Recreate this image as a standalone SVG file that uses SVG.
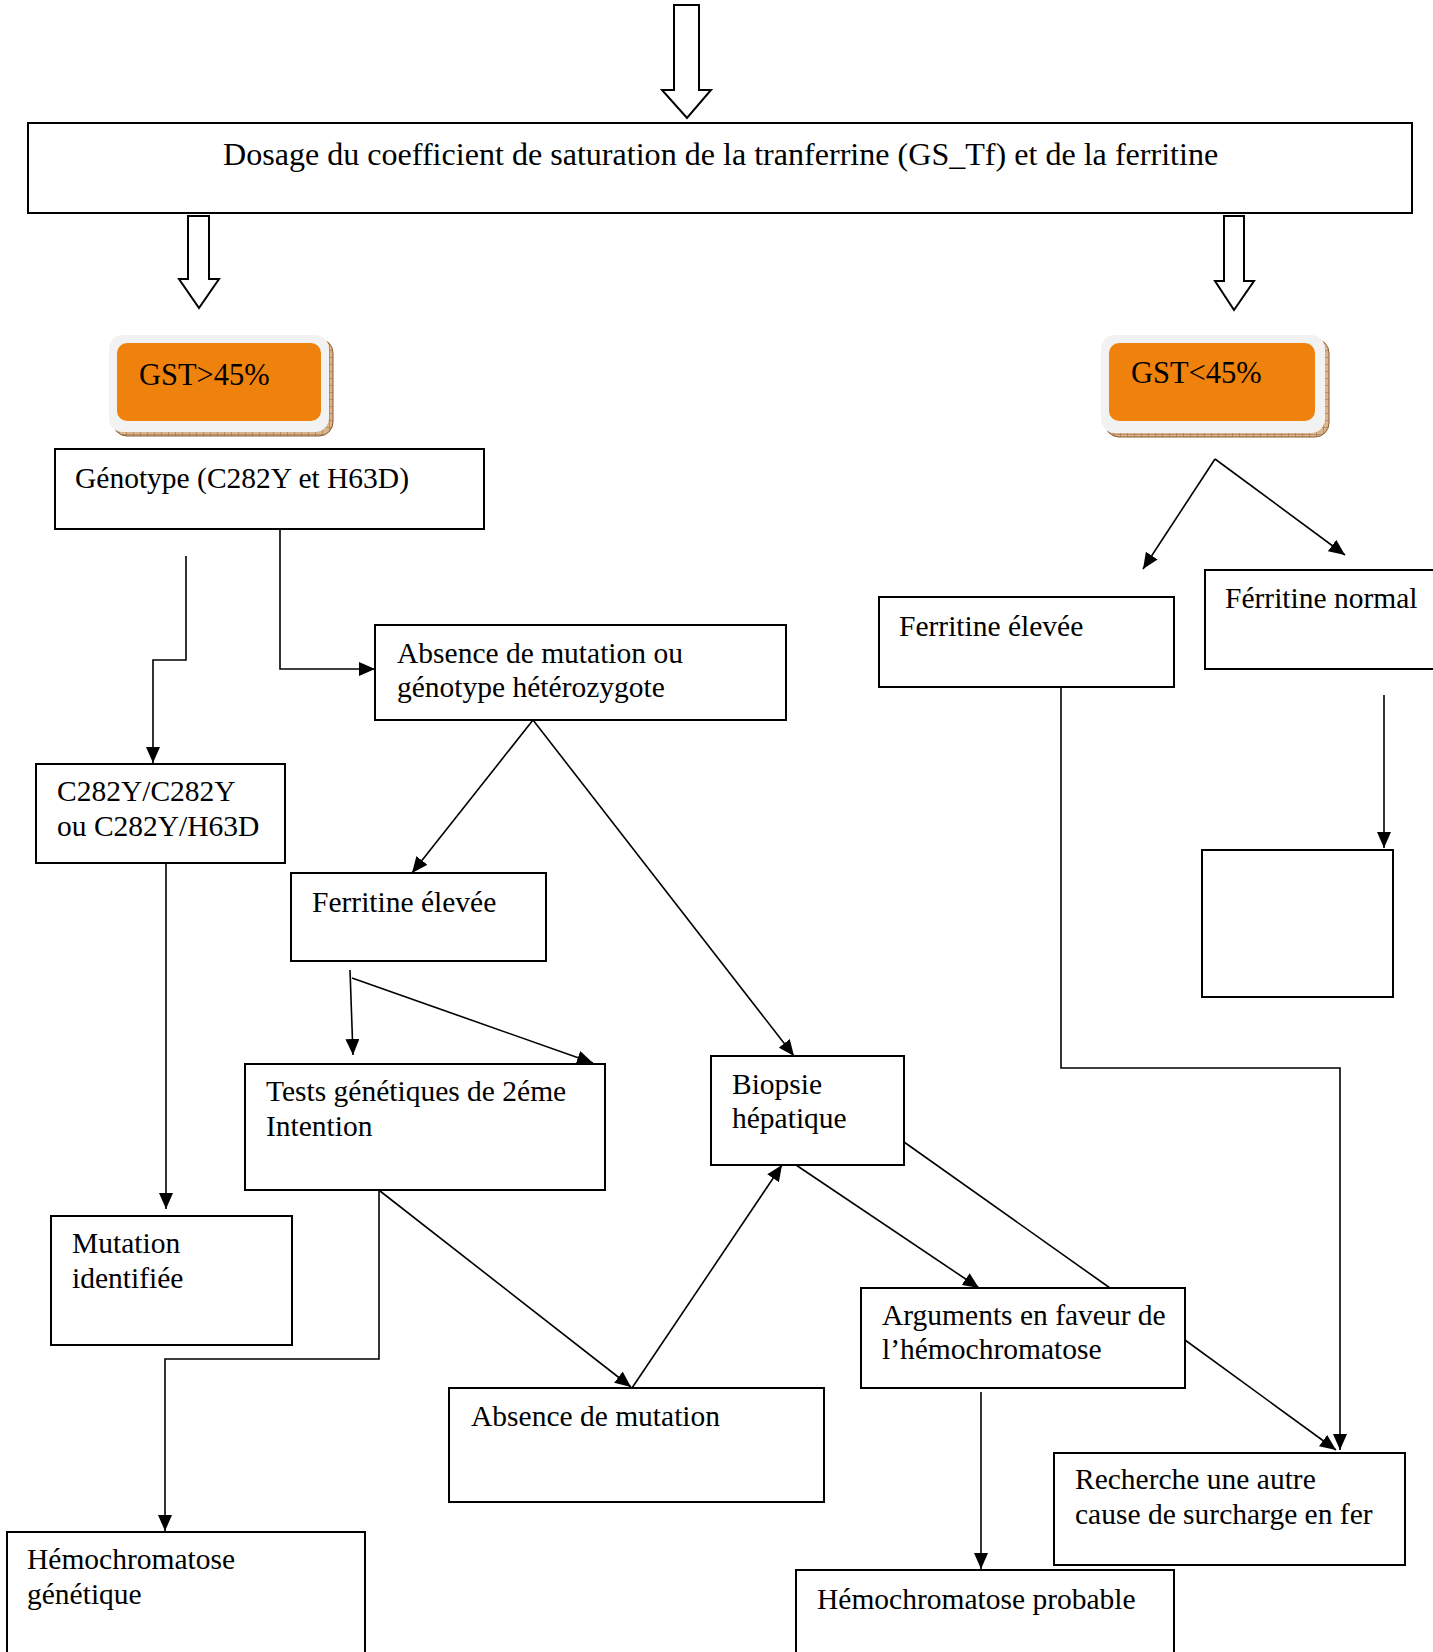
<svg xmlns="http://www.w3.org/2000/svg" width="1433" height="1652" viewBox="0 0 1433 1652">
<style>
.box{fill:#fff;stroke:#000;stroke-width:2}
.t{font-family:"Liberation Serif","Times New Roman",serif;font-size:29.5px;fill:#000}
.tg{font-family:"Liberation Serif","Times New Roman",serif;font-size:30.5px;fill:#000}
.tm{font-family:"Liberation Serif","Times New Roman",serif;font-size:32.1px;fill:#000}
.ln{fill:none;stroke:#000;stroke-width:1.6}
.ar{marker-end:url(#ah)}
.hollow{fill:#fff;stroke:#000;stroke-width:2;stroke-linejoin:miter}
.outer{fill:#f2f2f2}
.orange{fill:#ef820d}
.shadow{fill:url(#hatch);stroke:#8a5a2e;stroke-width:1}
</style>
<defs>
<marker id="ah" markerUnits="userSpaceOnUse" markerWidth="16" markerHeight="14" refX="16" refY="7" orient="auto">
<path d="M0,0 L16,7 L0,14 z" fill="#000"/>
</marker>
<pattern id="hatch" patternUnits="userSpaceOnUse" width="7" height="7">
<rect width="7" height="7" fill="#d9b48c"/>
<path d="M0,0 V7 M0,0 H7" stroke="#8a5a2e" stroke-width="0.8"/>
</pattern>
</defs>
<g id="connectors">
<polygon class="hollow" points="674,5 699,5 699,90 711,90 687,118 662,90 674,90"/>
<polygon class="hollow" points="188,216 209,216 209,279 219,279 199,308 179,279 188,279"/>
<polygon class="hollow" points="1224,216 1244,216 1244,281 1254,281 1234,310 1215,281 1224,281"/>
<polyline class="ln ar" points="186,556 186,660 153,660 153,763"/>
<polyline class="ln ar" points="280,529 280,669 375,669"/>
<line class="ln ar" x1="533" y1="720" x2="412" y2="873"/>
<line class="ln ar" x1="533" y1="720" x2="794" y2="1056"/>
<line class="ln ar" x1="350" y1="970" x2="353" y2="1055"/>
<line class="ln ar" x1="352" y1="978" x2="593" y2="1063"/>
<line class="ln ar" x1="166" y1="863" x2="166" y2="1209"/>
<polyline class="ln ar" points="379,1190 379,1359 165,1359 165,1531"/>
<line class="ln ar" x1="380" y1="1191" x2="631" y2="1387"/>
<line class="ln ar" x1="632" y1="1388" x2="782" y2="1165"/>
<line class="ln ar" x1="796" y1="1165" x2="979" y2="1288"/>
<line class="ln" x1="904" y1="1142" x2="1110" y2="1288"/>
<line class="ln ar" x1="1185" y1="1340" x2="1336" y2="1450"/>
<polyline class="ln ar" points="1061,687 1061,1068 1340,1068 1340,1450"/>
<line class="ln ar" x1="981" y1="1392" x2="981" y2="1569"/>
<line class="ln ar" x1="1384" y1="695" x2="1384" y2="848"/>
<line class="ln ar" x1="1215" y1="459" x2="1143" y2="569"/>
<line class="ln ar" x1="1215" y1="459" x2="1345" y2="555"/>
</g>
<g id="n-main">
<rect class="box" x="28" y="123" width="1384" height="90"/>
<text class="tm" x="223" y="165">Dosage du coefficient de saturation de la tranferrine (GS_Tf) et de la ferritine</text>
</g>
<g id="n-gst-high">
<rect class="shadow" x="113" y="339" width="220" height="97" rx="14"/>
<rect class="outer" x="109" y="335" width="220" height="97" rx="14"/>
<rect class="orange" x="117" y="343" width="204" height="78" rx="10"/>
<text class="tg" x="139" y="385">GST&gt;45%</text>
</g>
<g id="n-gst-low">
<rect class="shadow" x="1105" y="339" width="224" height="98" rx="14"/>
<rect class="outer" x="1101" y="335" width="224" height="98" rx="14"/>
<rect class="orange" x="1109" y="343" width="206" height="78" rx="10"/>
<text class="tg" x="1131" y="383">GST&lt;45%</text>
</g>
<g id="n-genotype">
<rect class="box" x="55" y="449" width="429" height="80"/>
<text class="t" x="75" y="488">Génotype (C282Y et H63D)</text>
</g>
<g id="n-absence-ou">
<rect class="box" x="375" y="625" width="411" height="95"/>
<text class="t" x="397" y="663">Absence de mutation ou</text>
<text class="t" x="397" y="697">génotype hétérozygote</text>
</g>
<g id="n-c282y">
<rect class="box" x="36" y="764" width="249" height="99"/>
<text class="t" x="57" y="801">C282Y/C282Y</text>
<text class="t" x="57" y="836">ou C282Y/H63D</text>
</g>
<g id="n-ferritine-mid">
<rect class="box" x="291" y="873" width="255" height="88"/>
<text class="t" x="312" y="912">Ferritine élevée</text>
</g>
<g id="n-tests">
<rect class="box" x="245" y="1064" width="360" height="126"/>
<text class="t" x="266" y="1101">Tests génétiques de 2éme</text>
<text class="t" x="266" y="1136">Intention</text>
</g>
<g id="n-biopsie">
<rect class="box" x="711" y="1056" width="193" height="109"/>
<text class="t" x="732" y="1094">Biopsie</text>
<text class="t" x="732" y="1128">hépatique</text>
</g>
<g id="n-mutation-id">
<rect class="box" x="51" y="1216" width="241" height="129"/>
<text class="t" x="72" y="1253">Mutation</text>
<text class="t" x="72" y="1288">identifiée</text>
</g>
<g id="n-hemo-gen">
<rect class="box" x="7" y="1532" width="358" height="130"/>
<text class="t" x="27" y="1569">Hémochromatose</text>
<text class="t" x="27" y="1604">génétique</text>
</g>
<g id="n-absence">
<rect class="box" x="449" y="1388" width="375" height="114"/>
<text class="t" x="471" y="1426">Absence de mutation</text>
</g>
<g id="n-arguments">
<rect class="box" x="861" y="1288" width="324" height="100"/>
<text class="t" x="882" y="1325">Arguments en faveur de</text>
<text class="t" x="882" y="1359">l’hémochromatose</text>
</g>
<g id="n-recherche">
<rect class="box" x="1054" y="1453" width="351" height="112"/>
<text class="t" x="1075" y="1489">Recherche une autre</text>
<text class="t" x="1075" y="1524">cause de surcharge en fer</text>
</g>
<g id="n-hemo-prob">
<rect class="box" x="796" y="1570" width="378" height="100"/>
<text class="t" x="817" y="1609">Hémochromatose probable</text>
</g>
<g id="n-ferritine-right">
<rect class="box" x="879" y="597" width="295" height="90"/>
<text class="t" x="899" y="636">Ferritine élevée</text>
</g>
<g id="n-ferritine-normal">
<rect class="box" x="1205" y="570" width="240" height="99"/>
<text class="t" x="1225" y="608">Férritine normal</text>
</g>
<g id="n-empty">
<rect class="box" x="1202" y="850" width="191" height="147"/>
</g>
</svg>
